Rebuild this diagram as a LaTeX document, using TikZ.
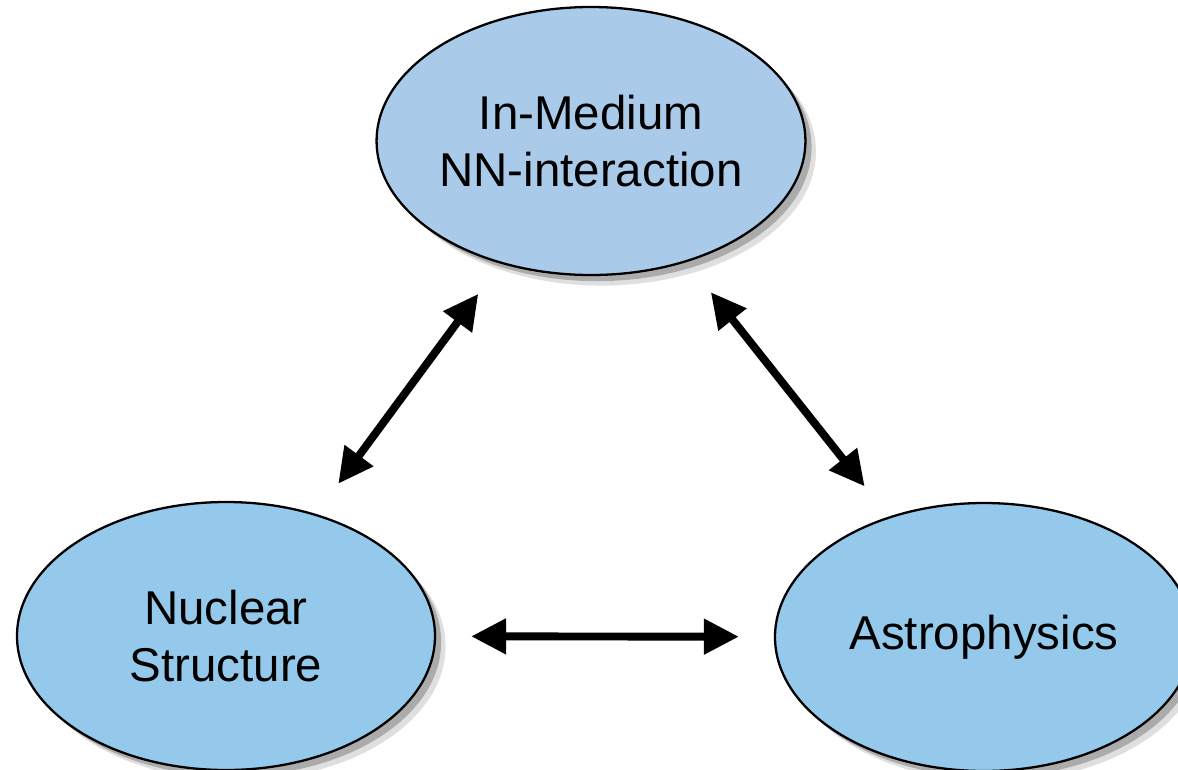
\documentclass[tikz,border=0pt]{standalone}
\usepackage{fontspec}
\setmainfont{Liberation Sans}
\usepackage{xcolor}
\usepackage{tikz}
\usetikzlibrary{arrows.meta}
\usetikzlibrary{shapes.geometric}
\usetikzlibrary{shadows}

\definecolor{topblue}{RGB}{169,203,233}
\definecolor{lowblue}{RGB}{149,201,235}

\begin{document}
\begin{tikzpicture}[
	topic/.style={ellipse, draw=black, line width=1.3pt, minimum width=8.36cm, minimum height=5.36cm, inner sep=0pt, align=center, font=\fontsize{27pt}{32pt}\selectfont,
		drop shadow={shadow xshift=6pt, shadow yshift=-6pt, opacity=0.25},
		drop shadow={shadow xshift=3.5pt, shadow yshift=-3.5pt, opacity=0.55}},
	link/.style={{Triangle[length=7mm, width=6.8mm]}-{Triangle[length=7mm, width=6.8mm]}, line width=4.5pt}
	]
	        \useasboundingbox (0,0) rectangle (23.56,-15.38);
	        \node[topic, fill=topblue] (medium) at (11.82,-2.82) {In-Medium\\NN-interaction};
	        \node[topic, fill=lowblue] (nuclear) at (4.52,-12.72) {Nuclear\\Structure};
	        \node[topic, fill=lowblue] (astro) at (19.68,-12.74) {Astrophysics};
	        \draw[link, shorten <=0.75cm, shorten >=0.75cm] (nuclear) -- (medium);
	        \draw[link, shorten <=0.77cm, shorten >=0.77cm] (medium) -- (astro);
	        \draw[link, shorten <=0.7cm, shorten >=0.7cm] (nuclear) -- (astro);
	     \end{tikzpicture}
\end{document}
